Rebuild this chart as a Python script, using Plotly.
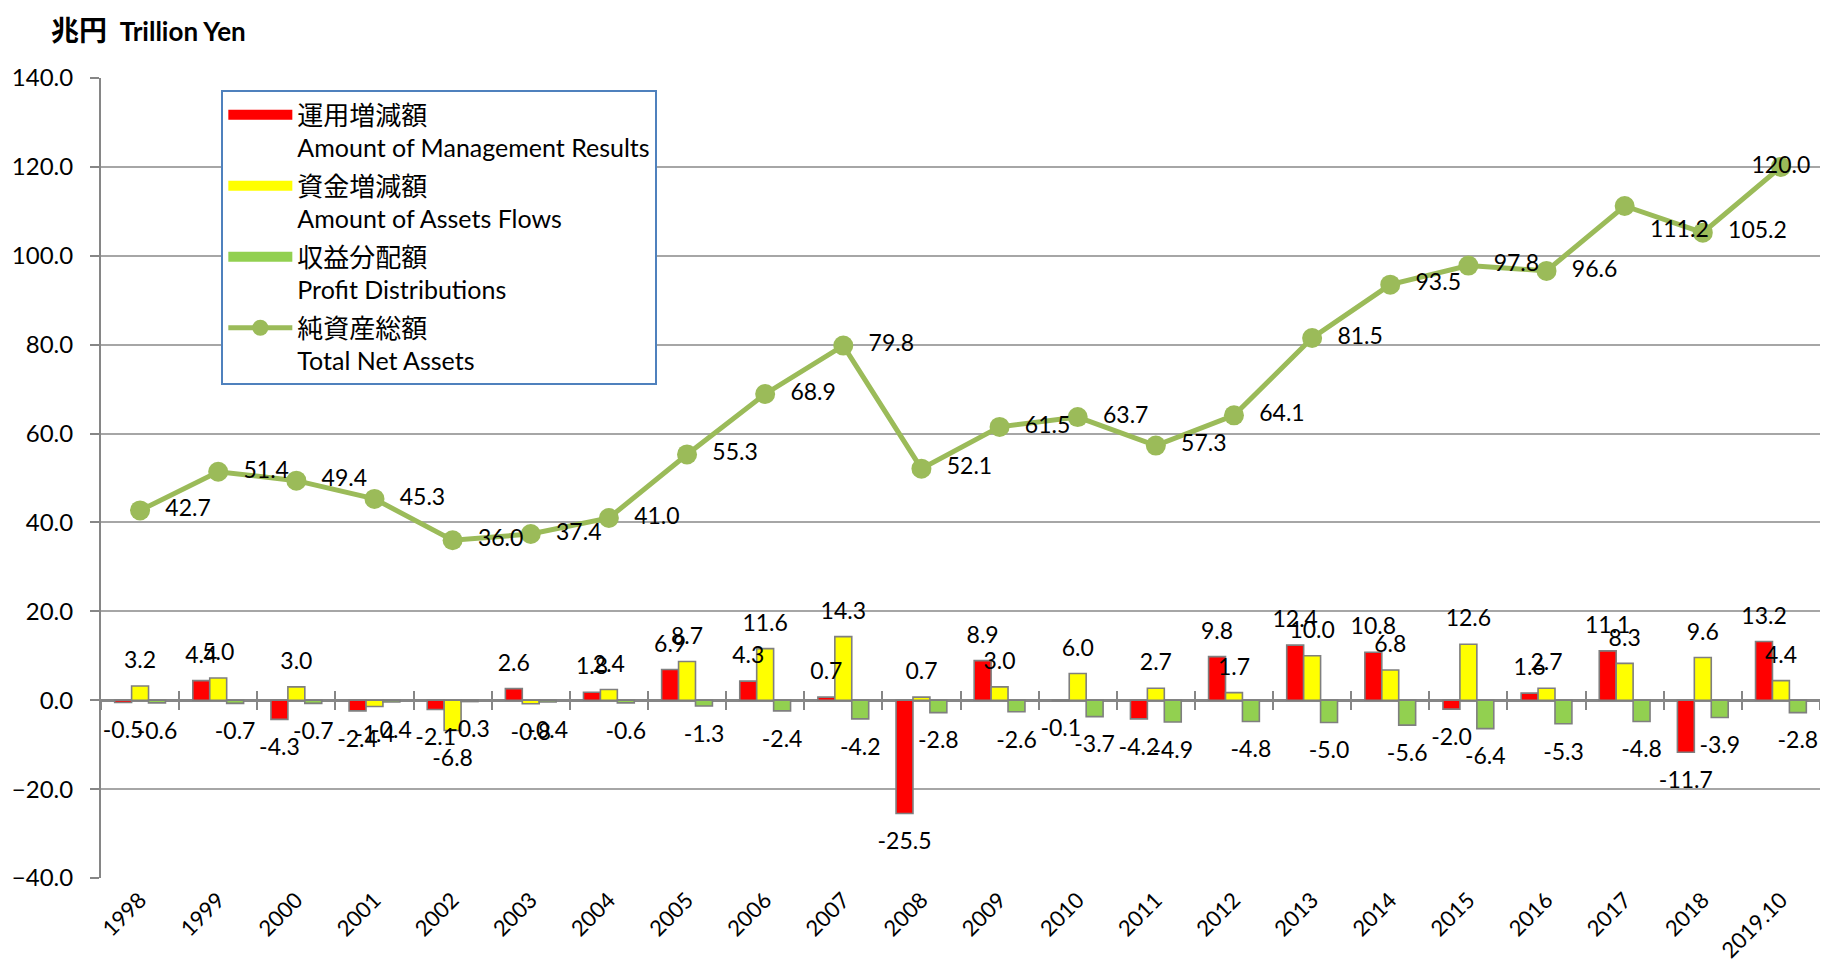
import plotly.graph_objects as go

years = ["1998", "1999", "2000", "2001", "2002", "2003", "2004", "2005", "2006", "2007",
         "2008", "2009", "2010", "2011", "2012", "2013", "2014", "2015", "2016", "2017",
         "2018", "2019.10"]

management_results = [-0.5, 4.4, -4.3, -2.4, -2.1, 2.6, 1.8, 6.9, 4.3, 0.7,
                      -25.5, 8.9, -0.1, -4.2, 9.8, 12.4, 10.8, -2.0, 1.6, 11.1,
                      -11.7, 13.2]
asset_flows = [3.2, 5.0, 3.0, -1.4, -6.8, -0.8, 2.4, 8.7, 11.6, 14.3,
               0.7, 3.0, 6.0, 2.7, 1.7, 10.0, 6.8, 12.6, 2.7, 8.3,
               9.6, 4.4]
profit_distributions = [-0.6, -0.7, -0.7, -0.4, -0.3, -0.4, -0.6, -1.3, -2.4, -4.2,
                        -2.8, -2.6, -3.7, -4.9, -4.8, -5.0, -5.6, -6.4, -5.3, -4.8,
                        -3.9, -2.8]
total_net_assets = [42.7, 51.4, 49.4, 45.3, 36.0, 37.4, 41.0, 55.3, 68.9, 79.8,
                    52.1, 61.5, 63.7, 57.3, 64.1, 81.5, 93.5, 97.8, 96.6, 111.2,
                    105.2, 120.0]

FONT = "Lato, 'Noto Sans CJK JP', sans-serif"
JP = "'Noto Sans CJK JP'"
LBL = 23
OUTLINE = dict(color="#7F7F7F", width=1.6)
LABEL_GAP = 2.2  # extra distance (axis units) between a bar end and its label


def legend_name(jp, en):
    return (f'<span style="font-family:{JP};font-size:26px">{jp}</span>'
            f'<br>{en}')


fig = go.Figure()

bar_series = [
    (management_results, "#FF0000", "運用増減額", "Amount of Management Results", "r"),
    (asset_flows, "#FFFF00", "資金増減額", "Amount of Assets Flows", "y"),
    (profit_distributions, "#92D050", "収益分配額", "Profit Distributions", "g"),
]

# the bars themselves
for vals, color, jp, en, grp in bar_series:
    fig.add_trace(go.Bar(
        x=years, y=vals, offsetgroup=grp, showlegend=False,
        marker=dict(color=color, line=OUTLINE), hoverinfo="y",
    ))

# transparent carrier bars (drawn after all bars so labels sit on top)
for vals, color, jp, en, grp in bar_series:
    fig.add_trace(go.Bar(
        x=years, base=vals, y=[LABEL_GAP if v >= 0 else -LABEL_GAP for v in vals],
        customdata=vals, offsetgroup=grp, showlegend=False, hoverinfo="skip",
        marker=dict(color="rgba(0,0,0,0)", line=dict(width=0)),
        texttemplate="%{customdata:.1f}", textposition="outside", textangle=0,
        constraintext="none", cliponaxis=False,
        textfont=dict(family=FONT, size=LBL, color="#000000"),
    ))

# legend entries drawn as wide colour swatches
for vals, color, jp, en, grp in bar_series:
    fig.add_trace(go.Scatter(
        x=[None], y=[None], mode="lines", name=legend_name(jp, en),
        line=dict(color=color, width=14), hoverinfo="skip", legendgroup=grp,
    ))

n = len(years)
line_pos = ["middle right"] * (n - 1) + ["middle center"]
line_pos[years.index("2017")] = "bottom right"
line_tpl = ["\u00a0\u00a0%{y:.1f}"] * (n - 1) + ["%{y:.1f}"]
fig.add_trace(go.Scatter(
    x=years, y=total_net_assets, name=legend_name("純資産総額", "Total Net Assets"),
    mode="lines+markers+text", legendgroup="tna",
    line=dict(color="#9BBB59", width=5),
    marker=dict(color="#9BBB59", size=20),
    texttemplate=line_tpl, textposition=line_pos,
    textfont=dict(family=FONT, size=LBL, color="#000000"),
    cliponaxis=False,
))

# helper traces so the zero-line tick axes are drawn
for ax in ["x2", "x3"]:
    fig.add_trace(go.Scatter(x=years, y=total_net_assets, xaxis=ax, yaxis="y",
                             mode="none", showlegend=False, hoverinfo="skip"))

zero_pos = (0 - (-40)) / (140 - (-40))
common_x = dict(type="category", categoryorder="array", categoryarray=years,
                range=[-0.5, n - 0.5])

fig.update_layout(
    width=1812, height=958,
    margin=dict(l=93, r=0, t=70, b=88, autoexpand=False),
    paper_bgcolor="white", plot_bgcolor="white",
    font=dict(family=FONT, size=LBL, color="#000000"),
    barmode="group", bargap=0.35, bargroupgap=0,
    showlegend=True,
    legend=dict(x=0.07, y=0.985, xanchor="left", yanchor="top",
                bgcolor="white", bordercolor="#4F81BD", borderwidth=2,
                font=dict(family=FONT, size=25), valign="top",
                traceorder="grouped", tracegroupgap=3, itemwidth=64),
    xaxis=dict(**common_x, showgrid=False, showline=False, ticks="",
               tickangle=-45, ticklabelstandoff=4, automargin=False,
               tickfont=dict(family=FONT, size=22)),
    xaxis2=dict(**common_x, overlaying="x", anchor="free", position=zero_pos,
                showticklabels=False, showgrid=False, showline=False,
                ticks="outside", tickson="boundaries", ticklen=9,
                tickcolor="#868686", tickwidth=2),
    xaxis3=dict(**common_x, overlaying="x", anchor="free", position=zero_pos,
                showticklabels=False, showgrid=False, showline=False,
                ticks="inside", tickson="boundaries", ticklen=9,
                tickcolor="#868686", tickwidth=2),
    yaxis=dict(range=[-40, 140], dtick=20, tick0=0, tickformat=".1f",
               showgrid=True, gridcolor="#A6A6A6", gridwidth=2,
               zeroline=True, zerolinecolor="#868686", zerolinewidth=3,
               showline=True, linecolor="#868686", linewidth=2,
               ticks="outside", ticklen=9, tickcolor="#868686", tickwidth=2,
               ticklabelstandoff=12, automargin=False,
               tickfont=dict(family=FONT, size=24)),
    annotations=[dict(
        xref="paper", yref="paper", x=-0.030, y=1.061,
        xanchor="left", yanchor="middle", showarrow=False,
        text=(f'<b><span style="font-family:{JP};font-size:28px">兆円</span>'
              '  Trillion Yen</b>'),
        font=dict(family=FONT, size=26, color="#000000"),
    )],
)

fig.write_html("out.html")
